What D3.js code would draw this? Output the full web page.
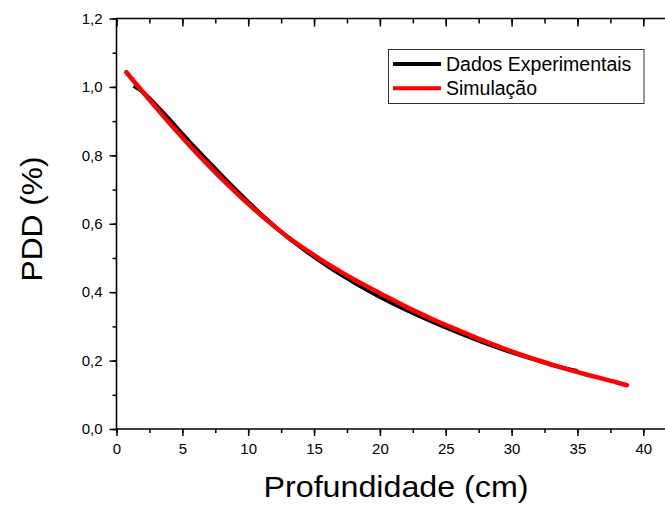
<!DOCTYPE html>
<html><head><meta charset="utf-8">
<script src="https://cdn.jsdelivr.net/npm/d3@7"></script>
<style>
html,body{margin:0;padding:0;background:#fff;}
svg{display:block;font-family:"Liberation Sans",Arial,sans-serif;}
</style></head>
<body>
<svg id="chart" width="665" height="506"></svg>
<script>
// ---- data ----
const expX = [1.3, 2, 3, 4, 5, 6, 7, 8, 9, 10, 11, 12, 13, 14, 15, 16, 17, 18, 19, 20, 22, 24, 26, 28, 30, 32, 34, 35];
const expY = [1.003, 0.985, 0.947, 0.906, 0.863, 0.821, 0.781, 0.741, 0.702, 0.664, 0.627, 0.593, 0.561, 0.531, 0.503, 0.477, 0.452, 0.429, 0.407, 0.386, 0.348, 0.313, 0.281, 0.251, 0.224, 0.200, 0.178, 0.170];
const simX = [0.75, 2, 3, 4, 5, 6, 7, 8, 9, 10, 11, 12, 13, 14, 15, 16, 17, 18, 19, 20, 22, 24, 26, 28, 30, 32, 34, 36, 38, 38.75];
const simY = [1.043, 0.985, 0.940, 0.895, 0.852, 0.810, 0.770, 0.731, 0.694, 0.658, 0.624, 0.592, 0.561, 0.534, 0.508, 0.483, 0.460, 0.438, 0.417, 0.397, 0.357, 0.321, 0.288, 0.256, 0.227, 0.201, 0.177, 0.156, 0.136, 0.128];
const xTicks = [0, 5, 10, 15, 20, 25, 30, 35, 40];
const yTicks = [0.0, 0.2, 0.4, 0.6, 0.8, 1.0, 1.2];
const seriesNames = ["Dados Experimentais", "Simulação"];
const xTitle = "Profundidade (cm)";
const yTitle = "PDD (%)";

// ---- layout ----
const L = 116.5, T = 18.5, B = 429;
const svg = d3.select("#chart");
const x = d3.scaleLinear().domain([0, 40]).range([L, 643.3]);
const y = d3.scaleLinear().domain([0, 1.2]).range([B, T]);
const xRight = x(42);
const fmt = v => d3.format(".1f")(v).replace(".", ",");

const xMinor = d3.range(0, 42.5, 2.5);
const yMinor = d3.range(0, 1.25, 0.1);

const g = svg.append("g");
const axisColor = "#000";

// bottom axis
const bottom = d3.axisBottom(x).tickValues(xMinor).tickSize(4).tickFormat("");
g.append("g").attr("transform", `translate(0,${B})`).call(bottom)
  .call(s => s.selectAll(".domain").remove())
  .call(s => s.selectAll("line").attr("stroke-width", 1.5));
const bottomMaj = d3.axisBottom(x).tickValues(xTicks).tickSize(7).tickPadding(7).tickFormat(d3.format("d"));
g.append("g").attr("transform", `translate(0,${B})`).call(bottomMaj)
  .call(s => s.selectAll(".domain").remove())
  .call(s => s.selectAll("line").attr("stroke-width", 1.5))
  .call(s => s.selectAll("text").attr("font-size", 15).attr("font-family", "Liberation Sans, Arial, sans-serif").attr("fill", "#000"));

// top axis (inward ticks)
g.append("g").attr("transform", `translate(0,${T})`).call(d3.axisBottom(x).tickValues(xMinor).tickSize(5).tickFormat(""))
  .call(s => s.selectAll(".domain").remove())
  .call(s => s.selectAll("line").attr("stroke-width", 1.5));
g.append("g").attr("transform", `translate(0,${T})`).call(d3.axisBottom(x).tickValues(xTicks).tickSize(8).tickFormat(""))
  .call(s => s.selectAll(".domain").remove())
  .call(s => s.selectAll("line").attr("stroke-width", 1.5));

// left axis
g.append("g").attr("transform", `translate(${L},0)`).call(d3.axisLeft(y).tickValues(yMinor).tickSize(4).tickFormat(""))
  .call(s => s.selectAll(".domain").remove())
  .call(s => s.selectAll("line").attr("stroke-width", 1.5));
g.append("g").attr("transform", `translate(${L},0)`).call(d3.axisLeft(y).tickValues(yTicks).tickSize(7).tickPadding(7).tickFormat(fmt))
  .call(s => s.selectAll(".domain").remove())
  .call(s => s.selectAll("line").attr("stroke-width", 1.5))
  .call(s => s.selectAll("text").attr("font-size", 15).attr("font-family", "Liberation Sans, Arial, sans-serif").attr("fill", "#000"));

// frame lines
g.append("line").attr("x1", L).attr("x2", xRight).attr("y1", B).attr("y2", B).attr("stroke", axisColor).attr("stroke-width", 1.6);
g.append("line").attr("x1", L).attr("x2", xRight).attr("y1", T).attr("y2", T).attr("stroke", axisColor).attr("stroke-width", 1.6);
g.append("line").attr("x1", L).attr("x2", L).attr("y1", T - 0.8).attr("y2", B + 0.8).attr("stroke", axisColor).attr("stroke-width", 1.6);

// lines
const line = d3.line().x(d => x(d[0])).y(d => y(d[1])).curve(d3.curveMonotoneX);
const expData = d3.zip(expX, expY);
const simData = d3.zip(simX, simY);
g.append("path").datum(expData).attr("d", line).attr("fill", "none").attr("stroke", "#000").attr("stroke-width", 4);
g.append("path").datum(simData).attr("d", line).attr("fill", "none").attr("stroke", "#ff0000").attr("stroke-width", 4.5).attr("stroke-linecap", "round");

// legend
const lg = svg.append("g");
lg.append("rect").attr("x", 388.5).attr("y", 49.5).attr("width", 255.5).attr("height", 54).attr("fill", "#fff").attr("stroke", "#333").attr("stroke-width", 1);
const colors = ["#000", "#ff0000"];
seriesNames.forEach((n, i) => {
  const yy = 64 + i * 24.3;
  lg.append("line").attr("x1", 393).attr("x2", 441).attr("y1", yy).attr("y2", yy).attr("stroke", colors[i]).attr("stroke-width", 4);
  lg.append("text").attr("x", 446).attr("y", yy + 7).attr("font-size", 19.5).attr("fill", "#000").text(n);
});

// titles
svg.append("text").attr("x", 396).attr("y", 497).attr("text-anchor", "middle").attr("font-size", 30)
  .attr("textLength", 265).attr("lengthAdjust", "spacingAndGlyphs").attr("fill", "#000").text(xTitle);
svg.append("text").attr("transform", "translate(42,219) rotate(-90)").attr("text-anchor", "middle").attr("font-size", 30)
  .attr("textLength", 125).attr("lengthAdjust", "spacingAndGlyphs").attr("fill", "#000").text(yTitle);
</script>
</body></html>
